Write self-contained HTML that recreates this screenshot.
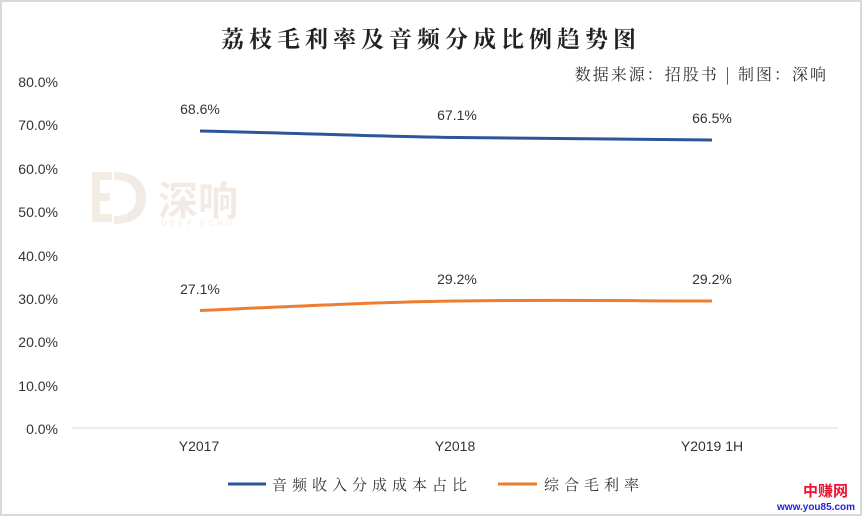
<!DOCTYPE html>
<html><head><meta charset="utf-8"><style>
body{margin:0;width:862px;height:516px;background:#fff;overflow:hidden}
</style></head><body>
<svg width="862" height="516" xmlns="http://www.w3.org/2000/svg" font-family="Liberation Sans, Noto Sans CJK SC, sans-serif">
<rect x="1" y="1" width="860" height="514" fill="#fff" stroke="#d9d9d9" stroke-width="2"/>
<text x="431" y="47" text-anchor="middle" font-family="Noto Serif CJK SC, serif" font-weight="bold" font-size="23" fill="#222" letter-spacing="5">荔枝毛利率及音频分成比例趋势图</text>
<text x="828" y="80" text-anchor="end" font-family="Noto Serif CJK SC, serif" font-size="16" fill="#333" letter-spacing="2">数据来源：招股书 | 制图：深响</text>
<g font-size="14" fill="#333" text-anchor="end">
<text x="58" y="87">80.0%</text><text x="58" y="130">70.0%</text><text x="58" y="174">60.0%</text><text x="58" y="217">50.0%</text><text x="58" y="261">40.0%</text><text x="58" y="304">30.0%</text><text x="58" y="347">20.0%</text><text x="58" y="391">10.0%</text><text x="58" y="434">0.0%</text>
</g>
<line x1="72" y1="428" x2="838" y2="428" stroke="#d9d9d9" stroke-width="1"/>
<g font-size="14" fill="#333" text-anchor="middle">
<text x="199" y="451">Y2017</text><text x="455" y="451">Y2018</text><text x="712" y="451">Y2019 1H</text>
</g>
<g opacity="0.5" fill="#e6d9cc">
<path d="M92 172h20v8h-12v13h10v8h-10v13h12v8h-20z M114 172c24 0 32 12 32 26s-8 26-32 26v-8c14 0 22-6 22-18s-8-18-22-18z"/>
<text x="158" y="215" font-size="40" font-family="Noto Sans CJK SC, sans-serif" font-weight="bold">深响</text>
<text x="161" y="226" font-size="8" letter-spacing="3">DEEP ECHO</text>
</g>
<path d="M200 131 C330 134, 400 137, 457 137.5 C560 138.5, 640 139.5, 712 140" fill="none" stroke="#2e5597" stroke-width="3"/>
<path d="M200 310.5 C300 306, 380 302, 457 301 C560 299.5, 640 301, 712 301" fill="none" stroke="#ed7d31" stroke-width="3"/>
<g font-size="14" fill="#333" text-anchor="middle">
<text x="200" y="114">68.6%</text><text x="457" y="120">67.1%</text><text x="712" y="123">66.5%</text>
<text x="200" y="294">27.1%</text><text x="457" y="284">29.2%</text><text x="712" y="284">29.2%</text>
</g>
<line x1="228" y1="484" x2="266" y2="484" stroke="#2e5597" stroke-width="3"/>
<text x="272" y="490" font-family="Noto Serif CJK SC, serif" font-size="15" fill="#333" letter-spacing="5">音频收入分成成本占比</text>
<line x1="498" y1="484" x2="537" y2="484" stroke="#ed7d31" stroke-width="3"/>
<text x="544" y="490" font-family="Noto Serif CJK SC, serif" font-size="15" fill="#333" letter-spacing="5">综合毛利率</text>
<text x="803" y="496" font-family="Noto Sans CJK SC, sans-serif" font-weight="bold" font-size="15" fill="#ee1133">中赚网</text>
<text x="855" y="510" text-anchor="end" font-weight="bold" font-size="10" fill="#2222dd">www.you85.com</text>
</svg>
</body></html>
